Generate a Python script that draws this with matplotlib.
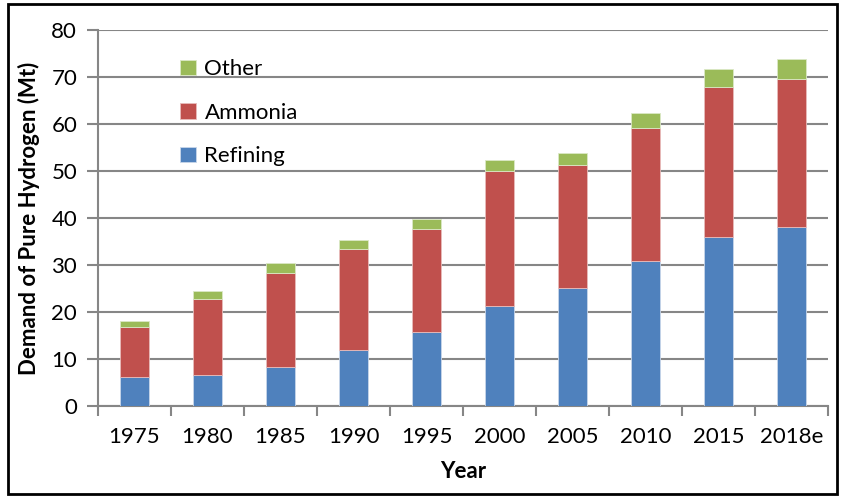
import matplotlib.pyplot as plt
import numpy as np
from matplotlib.patches import Rectangle

plt.rcParams['font.family'] = ['Lato', 'DejaVu Sans']

years = ["1975", "1980", "1985", "1990", "1995", "2000", "2005", "2010", "2015", "2018e"]
refining = [6.1, 6.7, 8.4, 11.9, 15.7, 21.3, 25.2, 30.8, 35.9, 38.1]
ammonia = [10.8, 16.1, 19.9, 21.4, 22.0, 28.6, 26.1, 28.4, 32.0, 31.5]
other = [1.1, 1.6, 2.1, 2.0, 2.0, 2.4, 2.6, 3.2, 3.8, 4.3]

blue = "#4F81BD"
red = "#C0504D"
green = "#9BBB59"
grey = "#868686"

fig = plt.figure(figsize=(8.41, 4.97), dpi=100)
ax = fig.add_axes([0.1165, 0.1831, 0.868, 0.7565])

x = np.arange(len(years))
w = 0.4
ref = np.array(refining)
amm = np.array(ammonia)
b1 = ax.bar(x, refining, w, color=blue, edgecolor="#c8d6ea", linewidth=0.6, label="Refining", zorder=3)
b2 = ax.bar(x, ammonia, w, bottom=ref, color=red, edgecolor="#e8bcbb", linewidth=0.6, label="Ammonia", zorder=3)
b3 = ax.bar(x, other, w, bottom=ref + amm, color=green, edgecolor="#dbe8c6", linewidth=0.6, label="Other", zorder=3)

ax.set_xlim(-0.5, len(years) - 0.5)
ax.set_ylim(0, 80)
ax.set_yticks(range(0, 81, 10))
ax.yaxis.grid(True, color=grey, linewidth=1.5, zorder=0)
ax.set_axisbelow(True)

ax.set_xticks(x)
ax.set_xticklabels(years)
ax.set_xticks(np.arange(-0.5, len(years)), minor=True)
ax.tick_params(axis="x", which="major", length=0, pad=15, labelsize=16)
ax.tick_params(axis="x", which="minor", length=7, width=1.5, color=grey, direction="out")
ax.tick_params(axis="y", length=8, width=1.5, color=grey, pad=7, labelsize=16)

for side in ["top", "right"]:
    ax.spines[side].set_visible(False)
for side in ["left", "bottom"]:
    ax.spines[side].set_color(grey)
    ax.spines[side].set_linewidth(1.5)

ax.set_ylabel("Demand of Pure Hydrogen (Mt)", fontsize=16, fontweight="bold", labelpad=8)
ax.set_xlabel("Year", fontsize=16, fontweight="bold", labelpad=10)

leg = ax.legend(handles=[b3, b2, b1], loc="upper left", bbox_to_anchor=(0.085, 0.975),
                frameon=False, fontsize=16, labelspacing=1.05, handlelength=0.7,
                handleheight=0.7, handletextpad=0.4)

fig.patches.append(Rectangle((0.01, 0.006), 0.985, 0.985, transform=fig.transFigure,
                             fill=False, edgecolor="black", linewidth=2))

fig.savefig("out.png", dpi=100)
